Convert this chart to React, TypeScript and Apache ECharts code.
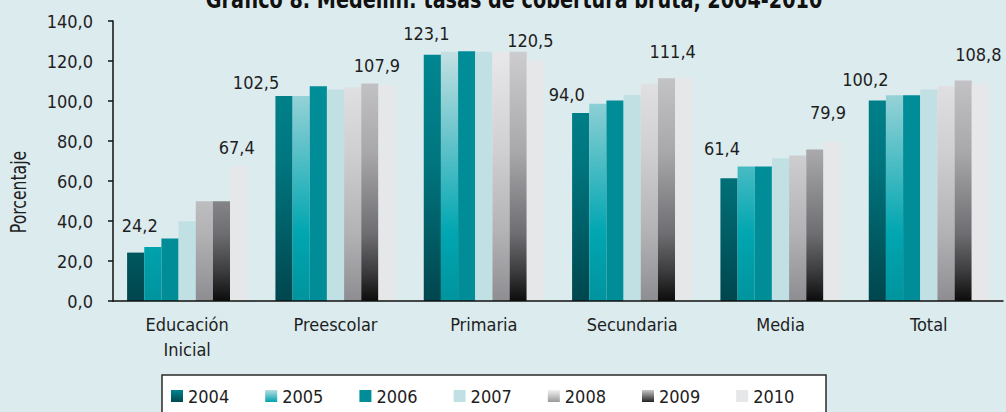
import React, { useEffect, useRef } from 'react';
import * as echarts from 'echarts';

const categories = ['Educación\nInicial', 'Preescolar', 'Primaria', 'Secundaria', 'Media', 'Total'];
const years = ['2004', '2005', '2006', '2007', '2008', '2009', '2010'];
const v2004 = [24.2, 102.5, 123.1, 94.0, 61.4, 100.2];
const v2005 = [27.0, 102.5, 124.6, 98.6, 67.2, 102.9];
const v2006 = [31.3, 107.4, 124.9, 100.2, 67.2, 102.9];
const v2007 = [39.9, 105.7, 124.6, 103.0, 71.4, 105.7];
const v2008 = [49.9, 106.9, 124.6, 108.7, 72.7, 107.4];
const v2009 = [49.9, 108.7, 124.6, 111.4, 75.7, 110.2];
const v2010 = [67.4, 107.9, 120.5, 111.4, 79.9, 108.8];
const seriesValues = [v2004, v2005, v2006, v2007, v2008, v2009, v2010];
const labelledYears = ['2004', '2010'];
const yMin = 0;
const yMax = 140;
const yStep = 20;
const title = 'Gráfico 8. Medellín: tasas de cobertura bruta, 2004-2010';
const yName = 'Porcentaje';

const FONT = '"DejaVu Sans Condensed", "Liberation Sans Narrow", sans-serif';
const TXT = '#1e1e1e';
const FS = 18;

// label offsets (style) for the 2004 and 2010 series
const labelOffsets: Record<string, number[][]> = {
  '2004': [[4, -13], [-28, 0], [-6, -7], [-14, -5], [-7, -16], [-12, -7]],
  '2010': [[-2, -5], [-10, -6], [-5, -6], [-11, -13], [-4, -15], [-2, -15]],
};

const G = (stops: [number, string][]) =>
  new echarts.graphic.LinearGradient(0, 21, 0, 301, stops.map(([o, c]) => ({ offset: o, color: c })), true);
const L = (stops: [number, string][]) =>
  new echarts.graphic.LinearGradient(0, 0, 0, 1, stops.map(([o, c]) => ({ offset: o, color: c })));

const barColors = [
  G([[0, '#008c96'], [0.5, '#00767f'], [1, '#00464e']]),
  G([[0, '#d0e8ea'], [0.11, '#c4e0e3'], [0.757, '#00a6b1'], [1, '#00949e']]),
  '#008d97',
  '#c1e0e3',
  G([[0, '#f0f0f2'], [0.47, '#cfcfd1'], [0.76, '#b2b2b5'], [1, '#8e8e92']]),
  G([[0, '#d8d8da'], [0.47, '#a8a8ab'], [0.76, '#6e6e72'], [0.9, '#3a3a3c'], [1, '#0c0c0c']]),
  '#e6e7e9',
];
const legendColors = [
  L([[0, '#00848e'], [1, '#004850']]),
  L([[0, '#b8dde1'], [1, '#00a3ae']]),
  '#008d97',
  '#c1e0e3',
  L([[0, '#f2f2f2'], [1, '#9a9a9c']]),
  L([[0, '#c8c8ca'], [1, '#222222']]),
  '#e6e7e9',
];

const fmt = (v: number) => v.toFixed(1).replace('.', ',');

export default function App() {
  const ref = useRef<HTMLDivElement>(null);
  useEffect(() => {
    document.body.style.margin = '0';
    const chart = echarts.init(ref.current!, null, { renderer: 'svg' });
    chart.setOption({
      animation: false,
      backgroundColor: '#dcebee',
      grid: { left: 113, right: 3, top: 21, bottom: 111, containLabel: false },
      xAxis: {
        type: 'category',
        z: 5,
        data: categories,
        axisLine: { show: true, lineStyle: { color: '#111', width: 1.5 } },
        axisTick: { show: false },
        axisLabel: { fontFamily: FONT, fontSize: FS, color: TXT, margin: 11, lineHeight: 25, interval: 0 },
      },
      yAxis: {
        type: 'value',
        z: 5,
        min: yMin,
        max: yMax,
        interval: yStep,
        splitLine: { show: false },
        axisLine: { show: true, lineStyle: { color: '#111', width: 1.5 } },
        axisTick: { show: true, length: 5, lineStyle: { color: '#111', width: 1.5 } },
        axisLabel: { fontFamily: FONT, fontSize: FS, color: TXT, margin: 20, formatter: (v: number) => fmt(v) },
      },
      legend: {
        left: 171,
        top: 387,
        padding: 0,
        itemWidth: 12,
        itemHeight: 12,
        itemGap: 36,
        icon: 'rect',
        textStyle: { fontFamily: FONT, fontSize: FS, color: TXT, width: 42 },
        data: years.map((y, i) => ({ name: y, icon: 'rect', itemStyle: { color: legendColors[i] } })),
      },
      graphic: [
        {
          type: 'rect',
          z: 0,
          shape: { x: 162, y: 375, width: 664, height: 50 },
          style: { fill: '#ffffff', stroke: '#2a2a2a', lineWidth: 1.5 },
        },
        {
          type: 'text',
          x: 514,
          y: 0,
          scaleX: 0.89,
          style: {
            text: title,
            fontFamily: FONT,
            fontWeight: 'bold',
            fontSize: 24,
            fill: '#111',
            align: 'center',
            verticalAlign: 'middle',
          },
        },
        {
          type: 'text',
          x: 19,
          y: 192,
          rotation: Math.PI / 2,
          scaleX: 0.83,
          style: {
            text: yName,
            fontFamily: FONT,
            fontSize: 21,
            fill: TXT,
            align: 'center',
            verticalAlign: 'middle',
          },
        },
      ],
      series: years.map((y, i) => {
        const showLab = labelledYears.includes(y);
        return {
          type: 'bar',
          name: y,
          barGap: '0%',
          barCategoryGap: '19%',
          itemStyle: { color: barColors[i] },
          label: {
            show: showLab,
            position: 'top',
            distance: 5,
            fontFamily: FONT,
            fontSize: FS,
            color: TXT,
            formatter: (p: any) => fmt(p.value),
          },
          data: seriesValues[i].map((v, j) =>
            showLab ? { value: v, label: { offset: labelOffsets[y][j] } } : v
          ),
        };
      }),
    });
    return () => chart.dispose();
  }, []);
  return <div ref={ref} style={{ width: 1006, height: 412 }} />;
}
